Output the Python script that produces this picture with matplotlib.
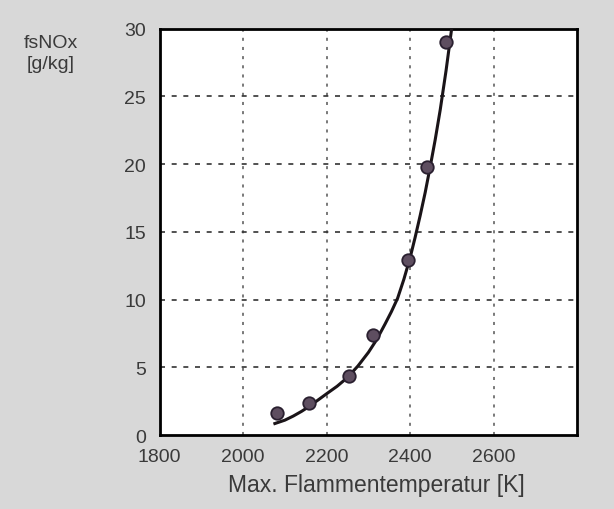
import matplotlib
matplotlib.use("Agg")
import matplotlib.pyplot as plt

plt.rcParams['font.family'] = ['Liberation Sans', 'DejaVu Sans']

# measured points
temp_pts = [2081, 2157, 2254, 2311, 2395, 2441, 2486]
nox_pts = [1.65, 2.4, 4.35, 7.35, 12.95, 19.8, 29.0]

# fitted curve
curve_t = [2076, 2100, 2120, 2140, 2160, 2180, 2200, 2225, 2250, 2275, 2300,
           2320, 2340, 2355, 2370, 2385, 2400, 2412, 2424, 2436, 2448,
           2460, 2472, 2486, 2499]
curve_y = [0.85, 1.1, 1.4, 1.75, 2.15, 2.6, 3.05, 3.6, 4.25, 5.1, 6.1,
           7.05, 8.2, 9.1, 10.1, 11.5, 13.1, 14.6, 16.2, 17.9, 19.8,
           21.8, 24.0, 26.9, 29.9]

xticks = [1800, 2000, 2200, 2400, 2600]
yticks = [0, 5, 10, 15, 20, 25, 30]

fig = plt.figure(figsize=(6.14, 5.10), dpi=100)
fig.patch.set_facecolor('#d8d8d8')
ax = fig.add_axes([0.26, 0.145, 0.68, 0.797])
ax.set_facecolor('white')

ax.plot(curve_t, curve_y, color='#1a1418', lw=2.2, zorder=3)
ax.plot(temp_pts, nox_pts, 'o', ms=9, mfc='#5e4e60', mec='#2a2030',
        mew=1.3, zorder=4)

ax.set_xlim(1800, 2800)
ax.set_ylim(0, 30)
ax.set_xticks(xticks)
ax.set_yticks(yticks)
ax.tick_params(length=0, labelsize=14, labelcolor='#3a3a3a')
ax.tick_params(axis='y', pad=10)
ax.tick_params(axis='x', pad=9)

for v in xticks[1:]:
    ax.axvline(v, color='#555555', lw=1.1, ls=(0, (2, 4)), zorder=1)
for v in yticks[1:-1]:
    ax.axhline(v, color='#333333', lw=1.2, ls=(0, (3, 4)), zorder=1)

for s in ax.spines.values():
    s.set_linewidth(2)
    s.set_color('black')

fig.text(376 / 614, 1 - 486 / 510, 'Max. Flammentemperatur [K]', ha='center',
         va='center', fontsize=16.5, color='#3a3a3a')
fig.text(51 / 614, 1 - 54 / 510, 'fsNOx\n[g/kg]', ha='center', va='center',
         fontsize=14, color='#3a3a3a', linespacing=1.25)

fig.savefig('out.png', dpi=100, facecolor=fig.get_facecolor())
